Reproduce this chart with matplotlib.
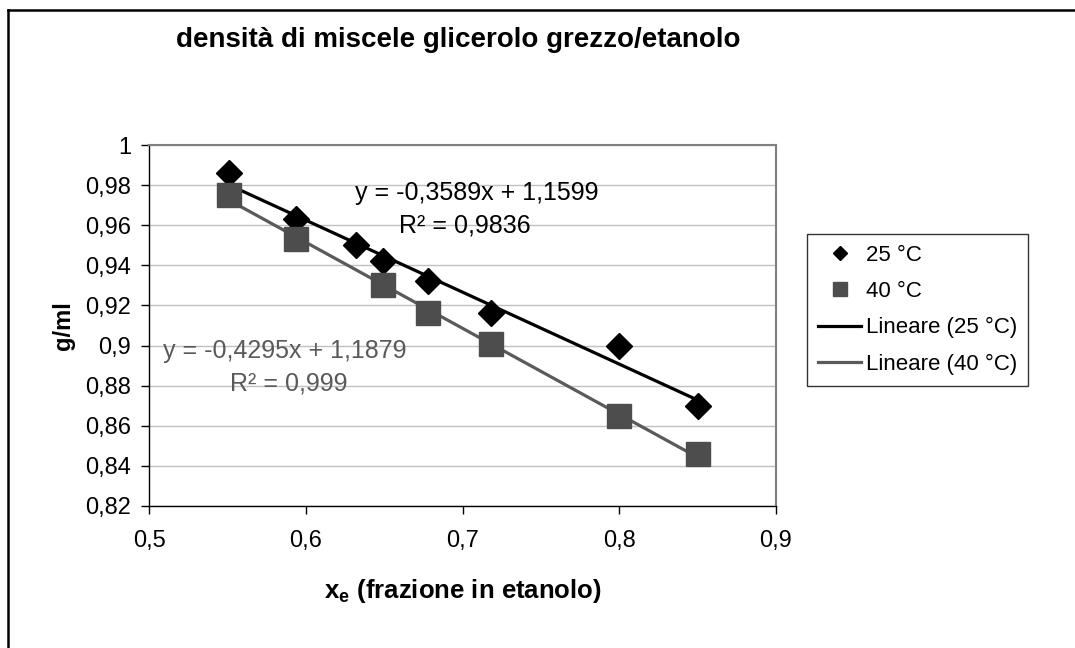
import numpy as np
import matplotlib
matplotlib.use('Agg')
import matplotlib.pyplot as plt
from matplotlib.ticker import FuncFormatter, MultipleLocator
from matplotlib.lines import Line2D

plt.rcParams['font.family'] = ['Liberation Sans', 'DejaVu Sans']
plt.rcParams['mathtext.fontset'] = 'custom'
plt.rcParams['mathtext.rm'] = 'Liberation Sans'
plt.rcParams['mathtext.bf'] = 'Liberation Sans:bold'

# data
x_25 = [0.551, 0.594, 0.632, 0.649, 0.678, 0.718, 0.800, 0.850]
y_25 = [0.986, 0.963, 0.950, 0.942, 0.932, 0.916, 0.900, 0.870]
x_40 = [0.551, 0.594, 0.649, 0.678, 0.718, 0.800, 0.850]
y_40 = [0.975, 0.953, 0.930, 0.916, 0.901, 0.865, 0.846]

eq_25 = ['y = -0,3589x + 1,1599', 'R² = 0,9836']
eq_40 = ['y = -0,4295x + 1,1879', 'R² = 0,999']

c_25 = '#000000'
c_40 = '#4d4d4d'
c_40_line = '#5a5a5a'


def comma(v, pos):
    return ('%g' % round(v, 4)).replace('.', ',')


fig = plt.figure(figsize=(10.75, 6.48), dpi=100)
ax = fig.add_axes([149 / 1075, 1 - 506 / 648, 627 / 1075, 361 / 648])

# trend lines over the data range
for xs, ys, col in [(x_25, y_25, c_25), (x_40, y_40, c_40_line)]:
    k, q = np.polyfit(xs, ys, 1)
    xx = np.array([min(xs), max(xs)])
    ax.plot(xx, k * xx + q, color=col, lw=2.3, zorder=3)

ax.plot(x_25, y_25, 'D', color=c_25, ms=13, mec=c_25, zorder=4)
ax.plot(x_40, y_40, 's', color=c_40, ms=17, mec=c_40, zorder=4)

ax.set_xlim(0.5, 0.9)
ax.set_ylim(0.82, 1.0)
ax.xaxis.set_major_locator(MultipleLocator(0.1))
ax.yaxis.set_major_locator(MultipleLocator(0.02))
ax.xaxis.set_major_formatter(FuncFormatter(comma))
ax.yaxis.set_major_formatter(FuncFormatter(comma))
ax.tick_params(direction='out', length=6, width=1, labelsize=17, color='black')
ax.tick_params(axis='x', pad=11)
ax.tick_params(axis='y', pad=7)
ax.grid(axis='y', color='#c0c0c0', lw=1)
ax.set_axisbelow(True)
for s in ['top', 'right']:
    ax.spines[s].set_color('#808080')
    ax.spines[s].set_linewidth(1.5)
for s in ['left', 'bottom']:
    ax.spines[s].set_color('black')
    ax.spines[s].set_linewidth(1)

ax.set_xlabel('x$_\\mathbf{e}$ (frazione in etanolo)', fontsize=18.5, fontweight='bold')
ax.xaxis.set_label_coords(0.5, -(591 - 506) / 361, transform=ax.transAxes)
ax.xaxis.label.set_va('center')
ax.set_ylabel('g/ml', fontsize=17, fontweight='bold')
ax.yaxis.set_label_coords(-(149 - 63) / 627, 0.5, transform=ax.transAxes)
ax.yaxis.label.set_va('center')

# equation labels
ax.text(0.7093, 0.976, eq_25[0], fontsize=18, color=c_25, ha='center', va='center')
ax.text(0.7016, 0.960, eq_25[1], fontsize=18, color=c_25, ha='center', va='center')
ax.text(0.5868, 0.8975, eq_40[0], fontsize=18, color=c_40_line, ha='center', va='center')
ax.text(0.5890, 0.8810, eq_40[1], fontsize=18, color=c_40_line, ha='center', va='center')

fig.text(458 / 1075, 1 - 40 / 648, 'densità di miscele glicerolo grezzo/etanolo',
         fontsize=20, fontweight='bold', ha='center', va='center')

handles = [
    Line2D([], [], marker='D', color=c_25, ls='none', ms=7.5),
    Line2D([], [], marker='s', color=c_40, ls='none', ms=10),
    Line2D([], [], color=c_25, lw=2.3),
    Line2D([], [], color=c_40_line, lw=2.3),
]
labels = ['25 °C', '40 °C', 'Lineare (25 °C)', 'Lineare (40 °C)']
leg = fig.legend(handles, labels, loc='upper left', bbox_to_anchor=(807 / 1075, 1 - 234 / 648),
                 fontsize=16, frameon=True, fancybox=False, edgecolor='black',
                 handlelength=1.95, handletextpad=0.2, labelspacing=0.68, borderpad=0.5,
                 borderaxespad=0)
leg.get_frame().set_linewidth(1)

# outer chart frame (only top and left edges are visible)
fig.add_artist(Line2D([8 / 1075, 8 / 1075], [0, 1 - 10 / 648], color='black', lw=1.8,
                      transform=fig.transFigure))
fig.add_artist(Line2D([8 / 1075, 1], [1 - 10 / 648, 1 - 10 / 648], color='black', lw=1.8,
                      transform=fig.transFigure))

fig.savefig('out.png', dpi=100)
